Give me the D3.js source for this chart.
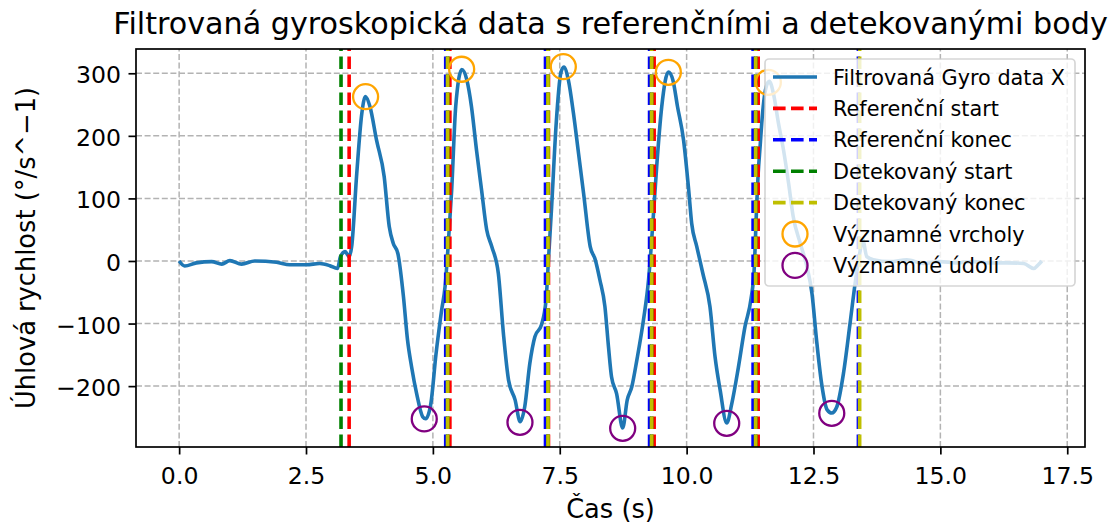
<!DOCTYPE html>
<html>
<head>
<meta charset="utf-8">
<script src="https://cdn.jsdelivr.net/npm/d3@7"></script>
<style>
  body { margin: 0; background: #fff; }
  svg { display: block; font-family: "DejaVu Sans", sans-serif; }
</style>
</head>
<body>
<div id="chart"></div>
<script>
// filtered gyro signal (time in s, value in deg/s)
var times = [0.00, 0.11, 0.34, 0.64, 0.84, 1.00, 1.23, 1.49, 1.92, 2.18, 2.51, 2.77, 2.97, 3.12, 3.18, 3.27, 3.35, 3.40,
  3.50, 3.60, 3.67, 3.76, 3.89, 4.04, 4.14, 4.22, 4.31, 4.42, 4.50, 4.58, 4.68, 4.80, 4.86, 4.96, 5.06, 5.17, 5.24, 5.30,
  5.37, 5.45, 5.57, 5.67, 5.76, 5.86, 5.96, 6.06, 6.16, 6.29, 6.39, 6.49, 6.62, 6.72, 6.81, 6.91, 7.01, 7.14, 7.23, 7.27,
  7.34, 7.43, 7.52, 7.58, 7.67, 7.77, 7.87, 7.97, 8.10, 8.20, 8.29, 8.39, 8.46, 8.52, 8.62, 8.74, 8.83, 8.92, 9.02, 9.15,
  9.25, 9.33, 9.41, 9.51, 9.64, 9.73, 9.82, 9.94, 10.04, 10.10, 10.20, 10.32, 10.46, 10.56, 10.66, 10.79, 10.89, 11.02,
  11.15, 11.27, 11.33, 11.38, 11.41, 11.45, 11.48, 11.57, 11.63, 11.71, 11.81, 11.91, 12.01, 12.10, 12.24, 12.37, 12.47,
  12.56, 12.66, 12.77, 12.86, 12.96, 13.09, 13.22, 13.32, 13.41, 13.47, 13.55, 13.68, 14.01, 14.34, 14.67, 15.00, 15.32,
  15.65, 15.98, 16.31, 16.64, 16.84, 16.93, 17.00];
var gyroX = [0, -8, -3, -1, -5, 0.5, -5, 0, -2, -6, -6, -4, -7.5, -12, 7, 15, 7, 23,
  140, 236, 263, 247, 193, 135, 55, 28, 12, -57, -126, -169, -212, -249, -252, -228, -150, -80, -41, 23,
  113, 247, 306, 289, 247, 177, 113, 50, 23, -20, -116, -190, -222, -257, -233, -164, -121, -102, -62, -9,
  87, 220, 300, 310, 289, 236, 172, 108, 23, 2, -30, -73, -137, -185, -212, -267, -222, -201, -158, -94,
  -30, 55, 151, 247, 302, 289, 247, 193, 114, 60, 23, -20, -73, -153, -206, -259, -228, -170,
  -105, -60, -15, 87, 140, 185, 220, 279, 287, 268, 220, 177, 124, 71, 28, -9, -52,
  -126, -196, -238, -243, -233, -180, -100, -36, 12, 34, 7, 2, -1, 2, -4, -1, -3,
  -1, -3, -3, -4, -12, -6, 0];

// reference and detected segment borders (s)
var refStarts = [3.35, 5.335, 7.278, 9.36, 11.41];
var refEnds = [5.253, 7.219, 9.27, 11.31, 13.385];
var detStarts = [3.19, 5.29, 7.268, 9.31, 11.36];
var detEnds = [5.29, 7.268, 9.31, 11.36, 13.41];

// significant peaks and valleys
var peakTimes = [3.674, 5.567, 7.57, 9.64, 11.61];
var peakValues = [262.6, 306.4, 310.5, 301.6, 285.6];
var valleyTimes = [4.83, 6.716, 8.74, 10.79, 12.86];
var valleyValues = [-252.5, -257.8, -267.4, -259.4, -243.4];

var xTicks = [0, 2.5, 5, 7.5, 10, 12.5, 15, 17.5];
var yTicks = [-200, -100, 0, 100, 200, 300];
var legendLabels = ["Filtrovaná Gyro data X", "Referenční start", "Referenční konec",
  "Detekovaný start", "Detekovaný konec", "Významné vrcholy", "Významné údolí"];

var width = 1115, height = 524;
// axes box (window.top is reserved, so prefixed names)
var axL = 136, axR = 1085, axT = 49, axB = 447;
var lw = 3.6; // line width for curve + vlines

var svg = d3.select("#chart").append("svg")
  .attr("width", width)
  .attr("height", height);

var x = d3.scaleLinear().domain([-0.85, 17.85]).range([axL, axR]);
var y = d3.scaleLinear().domain([-297.3, 338.8]).range([axB, axT]);

svg.append("clipPath").attr("id", "clip")
  .append("rect")
  .attr("x", axL).attr("y", axT)
  .attr("width", axR - axL).attr("height", axB - axT);

// grid
var grid = svg.append("g");
grid.selectAll(".gx").data(xTicks).enter().append("line")
  .attr("x1", d => x(d)).attr("x2", d => x(d))
  .attr("y1", axB).attr("y2", axT);
grid.selectAll(".gy").data(yTicks).enter().append("line")
  .attr("x1", axL).attr("x2", axR)
  .attr("y1", d => y(d)).attr("y2", d => y(d));
grid.selectAll("line")
  .attr("stroke", "#b3b3b3")
  .attr("stroke-width", 1.5)
  .attr("stroke-dasharray", "6,2.6");

var plot = svg.append("g").attr("clip-path", "url(#clip)");

// main line
var line = d3.line()
  .x((d, i) => x(times[i]))
  .y(d => y(d))
  .curve(d3.curveMonotoneX);

plot.append("path")
  .datum(gyroX)
  .attr("d", line)
  .attr("fill", "none")
  .attr("stroke", "#1f77b4")
  .attr("stroke-width", lw)
  .attr("stroke-linejoin", "round");

// vertical markers, drawn bottom -> top like axvline
function vlines(vals, color) {
  plot.append("g").selectAll("line").data(vals).enter().append("line")
    .attr("x1", d => x(d)).attr("x2", d => x(d))
    .attr("y1", axB).attr("y2", axT)
    .attr("stroke", color)
    .attr("stroke-width", lw)
    .attr("stroke-dasharray", "12.6,5.4");
}
vlines(refStarts, "#ff0000");
vlines(refEnds, "#0000ff");
vlines(detStarts, "#008000");
vlines(detEnds, "#bfbf00");

// peaks / valleys
plot.append("g").selectAll("circle").data(peakValues).enter().append("circle")
  .attr("cx", (d, i) => x(peakTimes[i]))
  .attr("cy", d => y(d))
  .attr("r", 12.5)
  .attr("fill", "none")
  .attr("stroke", "orange")
  .attr("stroke-width", 2.3);
plot.append("g").selectAll("circle").data(valleyValues).enter().append("circle")
  .attr("cx", (d, i) => x(valleyTimes[i]))
  .attr("cy", d => y(d))
  .attr("r", 12.5)
  .attr("fill", "none")
  .attr("stroke", "purple")
  .attr("stroke-width", 2.3);

// axes
var fmtY = d => d < 0 ? "\u2212" + Math.abs(d) : String(d);
var xAxis = svg.append("g")
  .attr("transform", "translate(0," + axB + ")")
  .call(d3.axisBottom(x).tickValues(xTicks).tickFormat(d3.format(".1f")).tickSize(7.5).tickPadding(7.5));
xAxis.selectAll("text").attr("dy", "0.93em");
var yAxis = svg.append("g")
  .attr("transform", "translate(" + axL + ",0)")
  .call(d3.axisLeft(y).tickValues(yTicks).tickFormat(fmtY).tickSize(7.5).tickPadding(7.5));
yAxis.selectAll("text").attr("dy", "0.4em");
svg.selectAll(".domain").remove();
svg.selectAll(".tick line").attr("stroke", "#000").attr("stroke-width", 1.7);
svg.selectAll(".tick text")
  .attr("fill", "#000")
  .style("font-size", "23.6px")
  .style("font-family", "DejaVu Sans");

// spines
svg.append("rect")
  .attr("x", axL).attr("y", axT)
  .attr("width", axR - axL).attr("height", axB - axT)
  .attr("fill", "none")
  .attr("stroke", "#000")
  .attr("stroke-width", 1.7);

// labels
svg.append("text")
  .attr("x", (axL + axR) / 2).attr("y", 34)
  .attr("text-anchor", "middle")
  .style("font-size", "30.2px")
  .text("Filtrovaná gyroskopická data s referenčními a detekovanými body");
svg.append("text")
  .attr("x", (axL + axR) / 2).attr("y", 518)
  .attr("text-anchor", "middle")
  .style("font-size", "25.7px")
  .text("Čas (s)");
svg.append("text")
  .attr("transform", "translate(35," + (axT + axB) / 2 + ") rotate(-90)")
  .attr("text-anchor", "middle")
  .style("font-size", "25.7px")
  .text("Úhlová rychlost (°/s^\u22121)");

// legend
var lg = svg.append("g");
lg.append("rect")
  .attr("x", 765).attr("y", 59)
  .attr("width", 310).attr("height", 227)
  .attr("rx", 4)
  .attr("fill", "#fff").attr("fill-opacity", 0.8)
  .attr("stroke", "#cccccc").attr("stroke-opacity", 0.8)
  .attr("stroke-width", 1.7);

var lgStyle = [
  {color: "#1f77b4", dash: null},
  {color: "#ff0000", dash: "12.6,5.4"},
  {color: "#0000ff", dash: "12.6,5.4"},
  {color: "#008000", dash: "12.6,5.4"},
  {color: "#bfbf00", dash: "12.6,5.4"},
  {color: "orange", marker: true},
  {color: "purple", marker: true}
];
var rows = lg.selectAll(".row").data(legendLabels).enter().append("g")
  .attr("transform", (d, i) => "translate(0," + (77 + i * 31.4) + ")");
rows.each(function(d, i) {
  var g = d3.select(this), st = lgStyle[i];
  if (st.marker) {
    g.append("circle").attr("cx", 795).attr("cy", 0).attr("r", 12.5)
      .attr("fill", "none").attr("stroke", st.color).attr("stroke-width", 2.3);
  } else {
    g.append("line").attr("x1", 773).attr("x2", 817).attr("y1", 0).attr("y2", 0)
      .attr("stroke", st.color).attr("stroke-width", lw)
      .attr("stroke-dasharray", st.dash);
  }
  g.append("text").attr("x", 833).attr("y", 7.5)
    .style("font-size", "20.8px")
    .text(d);
});
</script>
</body>
</html>
